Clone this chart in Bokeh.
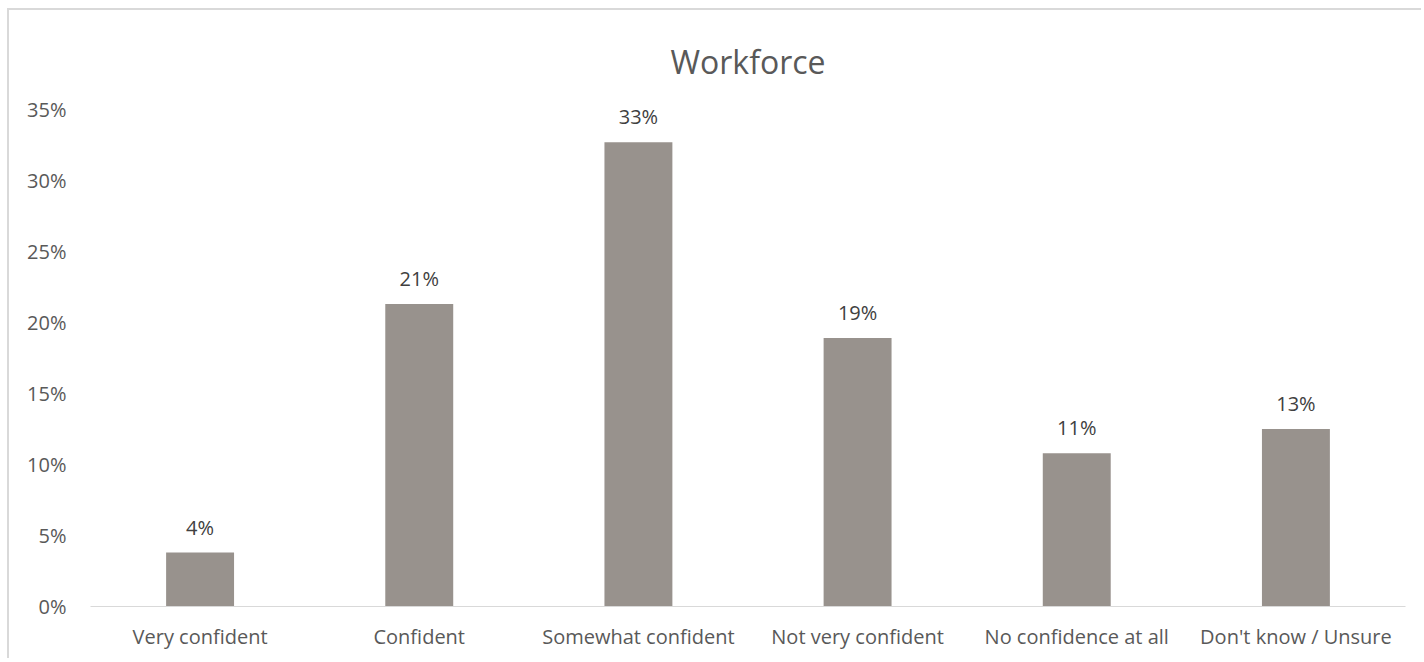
from bokeh.plotting import figure
from bokeh.models import ColumnDataSource, LabelSet, NumeralTickFormatter, Range1d, FactorRange
from bokeh.core.properties import value
from bokeh.embed import file_html
from bokeh.resources import INLINE

title_text = "Workforce"
categories = ["Very confident", "Confident", "Somewhat confident", "Not very confident",
              "No confidence at all", "Don't know / Unsure"]
values = [0.038, 0.213, 0.327, 0.189, 0.108, 0.125]
value_labels = ["4%", "21%", "33%", "19%", "11%", "13%"]

FONT = "Open Sans"
src = ColumnDataSource(dict(cat=categories, val=values, lab=value_labels))

p = figure(x_range=FactorRange(*categories, range_padding=0), y_range=Range1d(0, 0.35),
           width=1414, height=650, output_backend="svg", toolbar_location=None,
           min_border_left=81, min_border_right=18, min_border_top=99, min_border_bottom=54,
           title=title_text)
p.styles = {"border-left": "2px solid #d9d9d9", "border-top": "2px solid #d9d9d9",
            "margin-left": "7px", "margin-top": "8px"}
p.outline_line_color = None
p.vbar(x="cat", top="val", width=0.31, source=src, color="#98928d", line_color=None)
p.add_layout(LabelSet(x="cat", y="val", text="lab", source=src, text_align="center",
                      text_baseline="bottom", y_offset=12, text_font=value(FONT),
                      text_font_size="20px", text_color="#404040"))

p.title.align = "center"
p.title.text_font = FONT
p.title.text_font_size = "32px"
p.title.text_font_style = "normal"
p.title.text_color = "#595959"
p.title.standoff = 53

p.xgrid.grid_line_color = None
p.ygrid.grid_line_color = None
p.yaxis.ticker = [0, 0.05, 0.1, 0.15, 0.2, 0.25, 0.3, 0.35]
p.yaxis.formatter = NumeralTickFormatter(format="0%")
p.yaxis.axis_line_color = None
p.yaxis.major_tick_line_color = None
p.yaxis.minor_tick_line_color = None
p.yaxis.major_tick_out = 0
p.yaxis.major_label_standoff = 24
p.xaxis.axis_line_color = "#d9d9d9"
p.xaxis.axis_line_width = 1
p.xaxis.major_tick_line_color = None
p.xaxis.major_tick_out = 0
p.xaxis.major_label_standoff = 16
for ax in (p.xaxis, p.yaxis):
    ax.major_label_text_font = FONT
    ax.major_label_text_font_size = "20px"
    ax.major_label_text_color = "#595959"

open("out.html", "w").write(file_html(p, INLINE))
